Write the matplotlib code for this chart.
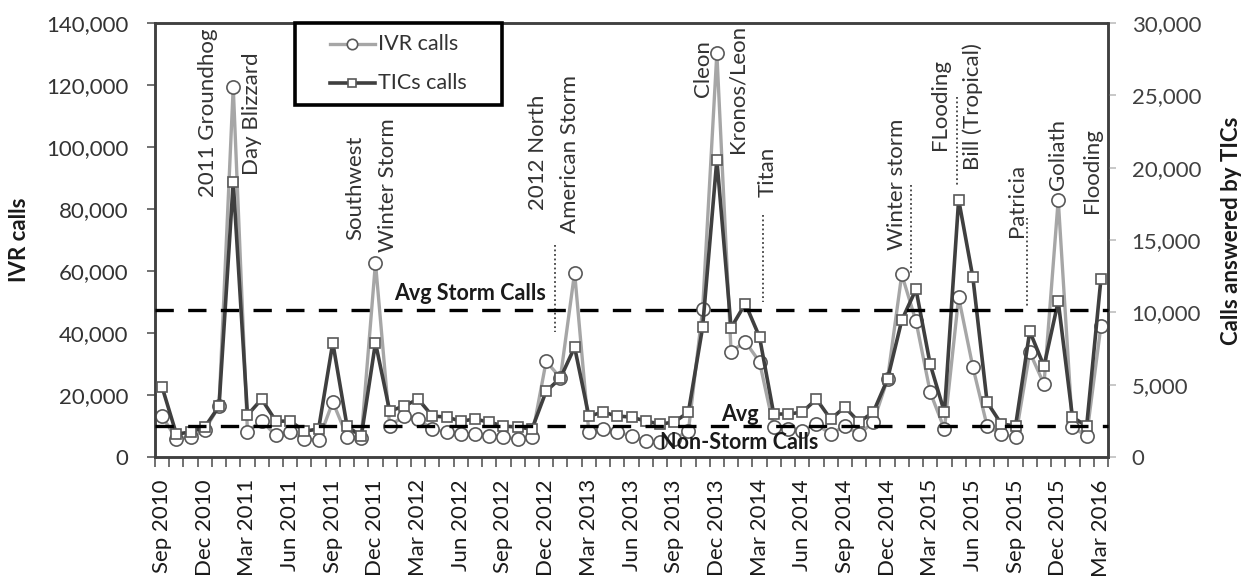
import matplotlib
matplotlib.use("Agg")
import matplotlib.pyplot as plt
from matplotlib.ticker import FuncFormatter, FixedLocator
from matplotlib.lines import Line2D
from matplotlib.patches import Rectangle
import numpy as np

# ---------------- data ----------------
series_names = ["IVR calls", "TICs calls"]
ivr_calls = [13200, 5800, 6400, 8700, 16400, 119400, 8200, 11600, 7000, 8000,
             5800, 5400, 17800, 6600, 6100, 62700, 10000, 13200, 12200, 9000,
             8000, 7400, 7400, 6800, 6400, 5800, 6400, 30900, 25500, 59500,
             8000, 9000, 8000, 6800, 5100, 4800, 5800, 8400, 47600, 130300,
             34000, 37200, 30700, 9600, 9000, 8400, 10600, 7400, 10000, 7400,
             11300, 25100, 58900, 43800, 20900, 9000, 51500, 29000, 10000, 7400,
             6400, 33800, 23500, 83000, 9600, 6800, 42200]
tics_calls = [4830, 1590, 1720, 2070, 3500, 19000, 2900, 4000, 2480, 2480,
              1790, 1930, 7900, 2140, 1420, 7900, 3170, 3520, 4000, 2830,
              2760, 2480, 2620, 2410, 2140, 2070, 1930, 4550, 5450, 7590,
              2830, 3100, 2830, 2760, 2480, 2280, 2410, 3100, 8970, 20550,
              8930, 10600, 8300, 2970, 2970, 3100, 4000, 2620, 3450, 2410,
              3100, 5380, 9450, 11590, 6410, 3100, 17790, 12410, 3790, 2280,
              2140, 8690, 6280, 10760, 2760, 2140, 12280]
tick_labels = ["Sep 2010", "Dec 2010", "Mar 2011", "Jun 2011", "Sep 2011",
               "Dec 2011", "Mar 2012", "Jun 2012", "Sep 2012", "Dec 2012",
               "Mar 2013", "Jun 2013", "Sep 2013", "Dec 2013", "Mar 2014",
               "Jun 2014", "Sep 2014", "Dec 2014", "Mar 2015", "Jun 2015",
               "Sep 2015", "Dec 2015", "Mar 2016"]
avg_storm_calls = 47500
avg_non_storm_calls = 10000
event_labels = ["2011 Groundhog", "Day Blizzard", "Southwest", "Winter Storm",
                "2012 North", "American Storm", "Cleon", "Kronos/Leon", "Titan",
                "Winter storm", "FLooding", "Bill (Tropical)", "Patricia",
                "Goliath", "Flooding"]

# ---------------- layout ----------------
W, H = 1250, 581
FONT = ["Lato", "DejaVu Sans"]
plt.rcParams["font.family"] = FONT


def fx(px):
    return px / W


def fy(py):
    return 1 - py / H


fig = plt.figure(figsize=(W / 100, H / 100), dpi=100)
ax = fig.add_axes([fx(155), fy(457), (1108 - 155) / W, (457 - 23) / H])
ax2 = ax.twinx()

LEFT_MAX, RIGHT_MAX = 140000, 30000
n = len(ivr_calls)
x = np.arange(n)

ax.set_xlim(-0.5, n - 0.5)
ax.set_ylim(0, LEFT_MAX)
ax2.set_ylim(0, RIGHT_MAX)

IVR_STYLE = dict(color="#a6a6a6", lw=2.4, marker="o", mfc="white", mec="#595959", mew=1.2)
TIC_STYLE = dict(color="#3f3f3f", lw=2.6, marker="s", mfc="white", mec="#595959", mew=1.2)

ax.plot(x, ivr_calls, ms=9.5, zorder=3, label=series_names[0], **IVR_STYLE)
ax2.plot(x, tics_calls, ms=7, zorder=3, label=series_names[1], **TIC_STYLE)

# average lines (in IVR units, drawn on top)
for v in (avg_storm_calls, avg_non_storm_calls):
    ax2.plot([-0.5, n - 0.5], [v, v], transform=ax.transData, color="black",
             lw=2.4, ls=(0, (5.5, 4.3)), zorder=5, clip_on=False)

ax2.text(16.3, avg_storm_calls + 1800, "Avg Storm Calls", transform=ax.transData,
         fontsize=15.5, fontweight="bold", color="#1a1a1a", ha="left", va="bottom",
         zorder=6)
ax2.text(40.6, avg_non_storm_calls - 800, "Avg\nNon-Storm Calls", transform=ax.transData,
         fontsize=15.5, fontweight="bold", color="#1a1a1a", ha="center", va="center",
         linespacing=1.4, zorder=6)

# event annotations (x in month index, y = bottom of rotated text in IVR units)
event_pos = [(3.23, 84000), (6.33, 91100), (13.57, 70150), (15.9, 66000),
             (26.44, 79800), (28.7, 72400), (38.05, 116200), (40.44, 98100),
             (42.6, 84000), (51.7, 66900), (54.7, 99100), (57.0, 92700),
             (60.1, 71100), (63.0, 86200), (65.4, 78800)]
for lab, (px, py) in zip(event_labels, event_pos):
    ax2.text(px, py, lab, transform=ax.transData, rotation=90, fontsize=16,
             color="#333333", ha="center", va="bottom", zorder=6)

leaders = [(27.64, 68500, 40200), (42.26, 78200, 49900), (52.67, 87900, 59500),
           (55.9, 116200, 87900), (60.83, 77200, 48600)]
for lx, y0, y1 in leaders:
    ax2.plot([lx, lx], [y0, y1], transform=ax.transData, color="#404040",
             lw=1.3, ls=(0, (1, 1.5)), zorder=4)

# axes styling
for a in (ax, ax2):
    for sp in ["left", "top", "right", "bottom"]:
        a.spines[sp].set_color("#404040")
        a.spines[sp].set_linewidth(1.8)

ax.set_yticks(np.arange(0, LEFT_MAX + 1, 20000))
ax.yaxis.set_major_formatter(FuncFormatter(lambda v, p: f"{int(v):,}"))
ax.tick_params(axis="y", direction="out", length=6, width=1.2, color="#595959",
               labelsize=16, labelcolor="#333333", pad=13)

ax2.set_yticks(np.arange(0, RIGHT_MAX + 1, 5000))
ax2.yaxis.set_major_formatter(FuncFormatter(lambda v, p: f"{int(v):,}"))
ax2.tick_params(axis="y", direction="out", length=6, width=1.2, color="#bfbfbf",
                labelsize=16, labelcolor="#404040", pad=11)

ax.xaxis.set_major_locator(FixedLocator(np.arange(0, n, 3)))
ax.set_xticklabels(tick_labels, rotation=90, ha="center", va="top")
ax.xaxis.set_minor_locator(FixedLocator(np.arange(-0.5, n, 1)))
ax.tick_params(axis="x", which="major", length=0, labelsize=16,
               labelcolor="#1a1a1a", pad=16)
ax.tick_params(axis="x", which="minor", direction="out", length=7, width=1.2,
               color="#595959")

fig.text(fx(20), fy(240), "IVR calls", rotation=90, ha="center", va="center",
         fontsize=16, fontweight="bold", color="#1a1a1a")
fig.text(fx(1232), fy(231), "Calls answered by TICs", rotation=90, ha="center",
         va="center", fontsize=16, fontweight="bold", color="#1a1a1a")

# legend box (drawn in figure pixels to match the reference frame)
frame = Rectangle((fx(295), fy(105)), fx(502) - fx(295), fy(23) - fy(105),
                  transform=fig.transFigure, facecolor="white", edgecolor="black",
                  lw=2.6, zorder=10)
fig.add_artist(frame)
rows = [(44, IVR_STYLE, 7.5), (83, TIC_STYLE, 6.0)]
for name, (ry, style, ms) in zip(series_names, rows):
    line_kw = {k: v for k, v in style.items() if k in ("color", "lw")}
    fig.add_artist(Line2D([fx(330), fx(375)], [fy(ry), fy(ry)],
                          transform=fig.transFigure, zorder=11, **line_kw))
    fig.add_artist(Line2D([fx(352)], [fy(ry)], transform=fig.transFigure,
                          ls="none", ms=ms, zorder=12, marker=style["marker"],
                          mfc="white", mec="#595959", mew=1.2))
    fig.text(fx(378), fy(ry), name, ha="left", va="center", fontsize=15.5,
             color="#333333", zorder=12)

fig.savefig("out.png", dpi=100)
